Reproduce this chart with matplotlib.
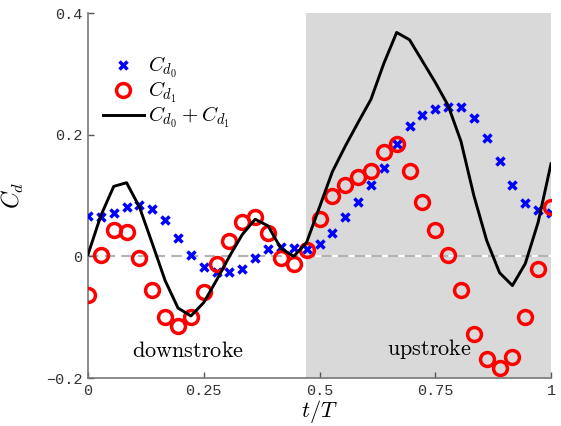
import numpy as np
import matplotlib
matplotlib.use("Agg")
import matplotlib.pyplot as plt

plt.rcParams['mathtext.fontset'] = 'cm'

# Data (t/T = k/36)
t = np.arange(37) / 36.0
cd0 = [0.067, 0.064, 0.071, 0.081, 0.084, 0.077, 0.059, 0.030, 0.002, -0.018,
       -0.026, -0.026, -0.020, -0.003, 0.012, 0.016, 0.013, 0.012, 0.020, 0.039,
       0.064, 0.090, 0.117, 0.146, 0.184, 0.215, 0.232, 0.242, 0.245, 0.245,
       0.227, 0.194, 0.156, 0.117, 0.087, 0.076, 0.071]
cd1 = [-0.064, 0.003, 0.044, 0.040, -0.003, -0.056, -0.099, -0.115, -0.100, -0.058,
       -0.013, 0.026, 0.056, 0.064, 0.038, -0.003, -0.013, 0.011, 0.061, 0.100,
       0.117, 0.130, 0.141, 0.171, 0.184, 0.141, 0.089, 0.044, 0.003, -0.056,
       -0.127, -0.168, -0.183, -0.165, -0.099, -0.020, 0.081]
cd_sum = np.array(cd0) + np.array(cd1)
upstroke_start = 0.471
xticks = [0, 0.25, 0.5, 0.75, 1]
xticklabels = ['0', '0.25', '0.5', '0.75', '1']
yticks = [-0.2, 0, 0.2, 0.4]
yticklabels = ['\u22120.2', '0', '0.2', '0.4']

fig = plt.figure(figsize=(5.61, 4.26), dpi=100)
ax = fig.add_axes([88/561, 1-378/426, (551-88)/561, (378-13)/426])

ax.axvspan(upstroke_start, 1, color='#d9d9d9', lw=0, zorder=0)
ax.axhline(0, color='white', lw=1.5, zorder=1)
ax.axhline(0, color='#b3b3b3', lw=1.5, ls=(0, (5, 3)), zorder=1.5)

ax.plot(t, cd0, ls='none', marker='x', color='blue', ms=5.5, mew=2.5, zorder=3,
        label=r'$C_{d_0}$')
ax.plot(t, cd1, ls='none', marker='o', mfc='none', mec='red', ms=10, mew=2.5, zorder=3,
        label=r'$C_{d_1}$')
ax.plot(t, cd_sum, color='black', lw=2.1, zorder=4, label=r'$C_{d_0}+C_{d_1}$')

ax.set_xlim(0, 1)
ax.set_ylim(-0.2, 0.4)
ax.set_xticks(xticks)
ax.set_xticklabels(xticklabels)
ax.set_yticks(yticks)
ax.set_yticklabels(yticklabels)
for lab in ax.get_xticklabels() + ax.get_yticklabels():
    lab.set_family('Liberation Mono')
    lab.set_fontsize(11)
    lab.set_color('#333333')
ax.tick_params(direction='in', length=4, width=1, color='#555555', pad=4)
for s in ['top', 'right']:
    ax.spines[s].set_visible(False)
for s in ['left', 'bottom']:
    ax.spines[s].set_color('#777777')
    ax.spines[s].set_linewidth(1.2)

ax.set_xlabel(r'$t/T$', fontsize=16, labelpad=0)
ax.set_ylabel(r'$C_d$', fontsize=17, labelpad=14)

ax.text(0.215, -0.155, r'$\mathrm{downstroke}$', fontsize=16, ha='center', va='center')
ax.text(0.738, -0.153, r'$\mathrm{upstroke}$', fontsize=16, ha='center', va='center')

leg = ax.legend(loc='upper left', bbox_to_anchor=(0.0, 0.925), frameon=False, fontsize=15,
                handlelength=2.0, handletextpad=0.2, labelspacing=0.0, borderaxespad=0.3)

fig.savefig('out.png', dpi=100)
